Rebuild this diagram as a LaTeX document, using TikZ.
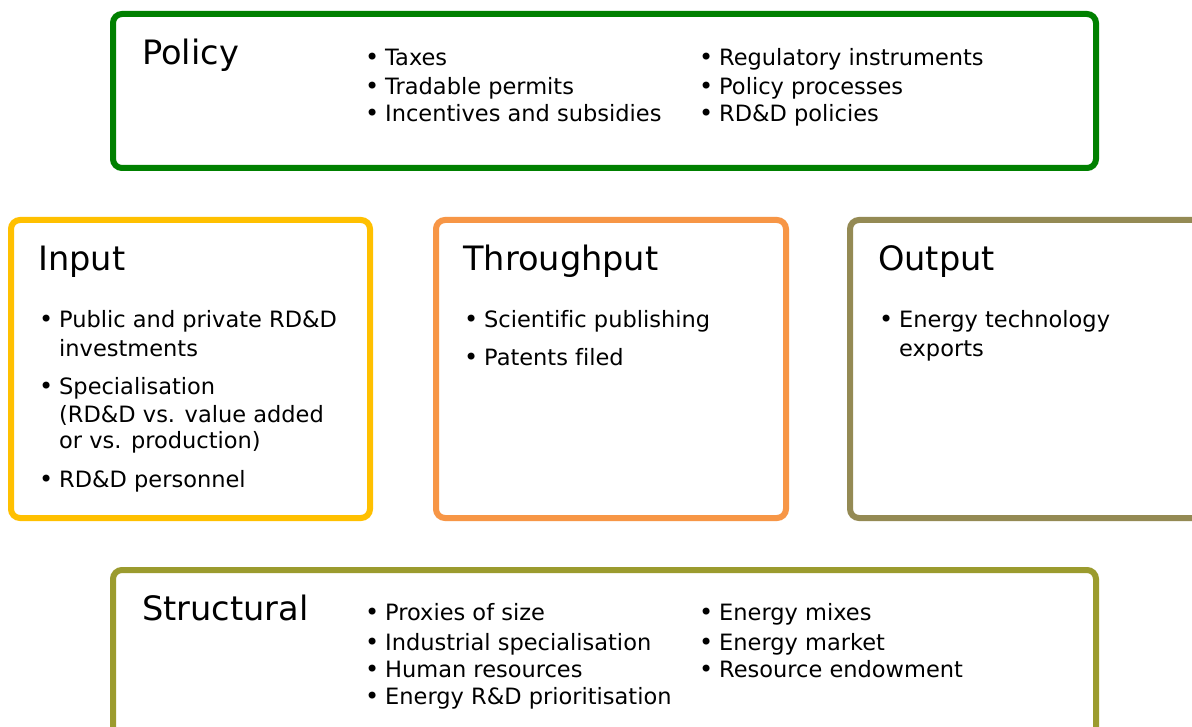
\documentclass[tikz,border=0pt]{standalone}
\usepackage{fontspec}
\setmainfont[Ligatures=NoCommon]{DejaVu Sans}
\definecolor{cpolicy}{HTML}{008000}
\definecolor{cinput}{HTML}{FFC000}
\definecolor{cthrough}{HTML}{F79646}
\definecolor{coutput}{HTML}{948A54}
\definecolor{cstruct}{HTML}{9B9B2E}
\begin{document}
\begin{tikzpicture}[x=1pt,y=-1pt,
  box/.style={draw, line width=6pt, rounded corners=9pt, rectangle, inner sep=0pt, fill=white},
  ttl/.style={anchor=base west, inner sep=0pt, font=\fontsize{33.6}{33.6}\selectfont},
  itm/.style={anchor=base west, inner sep=0pt, font=\fontsize{22.5}{22.5}\selectfont},
  bul/.style={anchor=base west, inner sep=0pt, font=\fontsize{24}{24}\selectfont}]
\clip (0,0) rectangle (1192,727);
\fill[white] (0,0) rectangle (1192,727);
% boxes
\draw[box, draw=cpolicy] (113,14) rectangle (1096,168);
\draw[box, draw=cinput] (11,220) rectangle (370,518);
\draw[box, draw=cthrough] (436,220) rectangle (786,518);
\draw[box, draw=coutput] (850,220) rectangle (1230,518);
\draw[box, draw=cstruct] (113,570) rectangle (1096,760);
% Policy
\node[ttl] (ptitle) at (142,65) {Policy};
\node[bul] (pb1) at (365,66) {•}; \node[itm] (p1) at (385,66) {Taxes};
\node[bul] (pb2) at (365,95) {•}; \node[itm] (p2) at (385,95) {Tradable permits};
\node[bul] (pb3) at (365,122) {•}; \node[itm] (p3) at (385,122) {Incentives and subsidies};
\node[bul] (pb4) at (699,66) {•}; \node[itm] (p4) at (719,66) {Regulatory instruments};
\node[bul] (pb5) at (699,95) {•}; \node[itm] (p5) at (719,95) {Policy processes};
\node[bul] (pb6) at (699,122) {•}; \node[itm] (p6) at (719,122) {RD\&D policies};
% Input
\node[ttl] (ititle) at (38,271) {Input};
\node[bul] (ib1) at (39,328) {•}; \node[itm] (i1) at (59,328) {Public and private RD\&D};
\node[itm] (i1b) at (59,356) {investments};
\node[bul] (ib2) at (39,395) {•}; \node[itm] (i2) at (59,395) {Specialisation};
\node[itm] (i2b) at (59,422) {(RD\&D vs. value added};
\node[itm] (i2c) at (59,448) {or vs. production)};
\node[bul] (ib3) at (39,487) {•}; \node[itm] (i3) at (59,487) {RD\&D personnel};
% Throughput
\node[ttl] (ttitle) at (463,271) {Throughput};
\node[bul] (tb1) at (464,328) {•}; \node[itm] (t1) at (484,328) {Scientific publishing};
\node[bul] (tb2) at (464,366) {•}; \node[itm] (t2) at (484,366) {Patents filed};
% Output
\node[ttl] (otitle) at (878,271) {Output};
\node[bul] (ob1) at (879,328) {•}; \node[itm] (o1) at (899,328) {Energy technology};
\node[itm] (o1b) at (899,356) {exports};
% Structural
\node[ttl] (stitle) at (142,620) {Structural};
\node[bul] (sb1) at (365,620) {•}; \node[itm] (s1) at (385,620) {Proxies of size};
\node[bul] (sb2) at (365,650) {•}; \node[itm] (s2) at (385,650) {Industrial specialisation};
\node[bul] (sb3) at (365,677) {•}; \node[itm] (s3) at (385,677) {Human resources};
\node[bul] (sb4) at (365,704) {•}; \node[itm] (s4) at (385,704) {Energy R\&D prioritisation};
\node[bul] (sb5) at (699,620) {•}; \node[itm] (s5) at (719,620) {Energy mixes};
\node[bul] (sb6) at (699,650) {•}; \node[itm] (s6) at (719,650) {Energy market};
\node[bul] (sb7) at (699,677) {•}; \node[itm] (s7) at (719,677) {Resource endowment};
\end{tikzpicture}
\end{document}
